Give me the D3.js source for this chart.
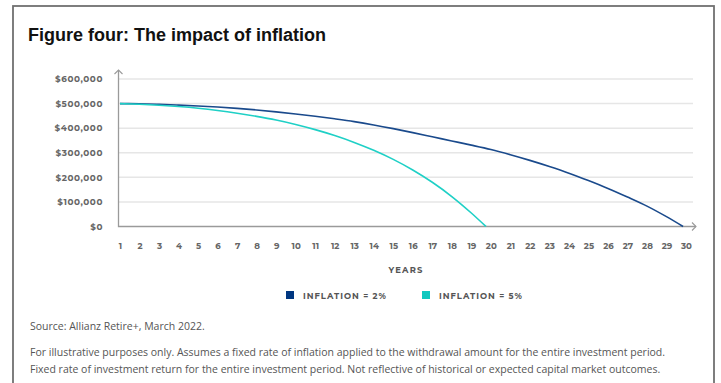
<!DOCTYPE html>
<html>
<head>
<meta charset="utf-8">
<script src="https://cdn.jsdelivr.net/npm/d3@7/dist/d3.min.js"></script>
<style>
  html, body { margin: 0; padding: 0; background: #fff; }
  svg { display: block; }
</style>
</head>
<body>
<svg id="chart" width="721" height="383"></svg>
<script>
// Portfolio balance by year under two inflation assumptions
const yearTicks = [1,2,3,4,5,6,7,8,9,10,11,12,13,14,15,16,17,18,19,20,21,22,23,24,25,26,27,28,29,30];
const valueTicks = [0, 100000, 200000, 300000, 400000, 500000, 600000];

const years2 = [1,2,3,4,5,6,7,8,9,10,11,12,13,14,15,16,17,18,19,20,21,22,23,24,25,26,27,28,29,29.85];
const balance2 = [500000,499500,497200,493900,490200,485800,480500,474000,466300,457800,448500,438000,426600,413200,398200,382000,365000,348000,331000,313000,292000,269000,244000,217000,187000,155000,120000,83000,40000,0];

const years5 = [1,2,3,4,5,6,7,8,9,10,11,12,13,14,15,16,17,18,19,19.75];
const balance5 = [500000,497500,493500,488000,481000,472000,461000,448000,433000,415000,394000,370000,342000,310000,273000,230000,180000,122000,55000,0];

const seriesNames = ["INFLATION = 2%", "INFLATION = 5%"];
const seriesColors = ["#1a4a8c", "#1fd0c6"];
const legendColors = ["#003781", "#10c8bf"];

const svg = d3.select("#chart");

// outer frame
svg.append("rect")
  .attr("x", 13).attr("y", 6)
  .attr("width", 701).attr("height", 420)
  .attr("fill", "none")
  .attr("stroke", "#707070")
  .attr("stroke-width", 1.8);

svg.append("text")
  .attr("x", 28).attr("y", 41)
  .attr("font-family", "Liberation Sans, Arial, sans-serif")
  .attr("font-weight", "bold")
  .attr("font-size", 18)
  .attr("fill", "#111")
  .text("Figure four: The impact of inflation");

const x = d3.scaleLinear().domain([1, 30]).range([120, 686]);
const y = d3.scaleLinear().domain([0, 600000]).range([226.5, 79]);

const labelFont = "Montserrat, 'Open Sans', 'DejaVu Sans', sans-serif";

// horizontal gridlines
svg.append("g")
  .selectAll("line")
  .data(valueTicks.filter(v => v > 0))
  .join("line")
  .attr("x1", 119).attr("x2", 693)
  .attr("y1", d => y(d)).attr("y2", d => y(d))
  .attr("stroke", "#e6e6e6")
  .attr("stroke-width", 1.5);

// y axis labels
const yAxis = svg.append("g")
  .attr("transform", "translate(118,0)")
  .call(d3.axisLeft(y).tickValues(valueTicks).tickSize(0).tickPadding(15)
    .tickFormat(d => "$" + d3.format(",")(d)));
yAxis.select(".domain").remove();
yAxis.selectAll("text")
  .attr("font-family", labelFont)
  .attr("font-weight", "bold")
  .attr("font-size", 8.8)
  .attr("letter-spacing", 0.6)
  .attr("fill", "#666");

// x axis labels
const xAxis = svg.append("g")
  .attr("transform", "translate(0,226.5)")
  .call(d3.axisBottom(x).tickValues(yearTicks).tickSize(0).tickPadding(16)
    .tickFormat(d3.format("d")));
xAxis.select(".domain").remove();
xAxis.selectAll("text")
  .attr("font-family", labelFont)
  .attr("font-weight", "bold")
  .attr("font-size", 8.6)
  .attr("fill", "#666");

// axis lines with open arrowheads
const axisColor = "#9a9a9a";
svg.append("path")
  .attr("d", "M118.5,70 V226.5 H696")
  .attr("fill", "none").attr("stroke", axisColor).attr("stroke-width", 1.3);
svg.append("path")
  .attr("d", "M114.5,74 L118.5,70 L122.5,74")
  .attr("fill", "none").attr("stroke", axisColor).attr("stroke-width", 1.1);
svg.append("path")
  .attr("d", "M692,222.5 L696,226.5 L692,230.5")
  .attr("fill", "none").attr("stroke", axisColor).attr("stroke-width", 1.1);

// balance lines
const line = d3.line()
  .x(d => x(d[0]))
  .y(d => y(d[1]))
  .curve(d3.curveMonotoneX);

const series = [
  d3.zip(years2, balance2),
  d3.zip(years5, balance5)
];
svg.append("g")
  .selectAll("path")
  .data(series)
  .join("path")
  .attr("d", line)
  .attr("fill", "none")
  .attr("stroke", (d, i) => seriesColors[i])
  .attr("stroke-width", 1.6);

svg.append("text")
  .attr("x", 406).attr("y", 273)
  .attr("text-anchor", "middle")
  .attr("font-family", labelFont)
  .attr("font-weight", "bold")
  .attr("font-size", 8.4)
  .attr("letter-spacing", 1.2)
  .attr("fill", "#555")
  .text("YEARS");

// legend
const legendX = [286, 422];
const legend = svg.append("g")
  .selectAll("g")
  .data(seriesNames)
  .join("g")
  .attr("transform", (d, i) => `translate(${legendX[i]},291)`);
legend.append("rect")
  .attr("width", 8).attr("height", 8)
  .attr("fill", (d, i) => legendColors[i]);
legend.append("text")
  .attr("x", 17).attr("y", 7.5)
  .attr("font-family", labelFont)
  .attr("font-weight", "bold")
  .attr("font-size", 8.4)
  .attr("letter-spacing", 1)
  .attr("fill", "#555")
  .text(d => d);

// footnotes
const noteFont = "'Open Sans', 'Noto Sans', sans-serif";
const notes = [
  {text: "Source: Allianz Retire+, March 2022.", y: 330},
  {text: "For illustrative purposes only. Assumes a fixed rate of inflation applied to the withdrawal amount for the entire investment period.", y: 356},
  {text: "Fixed rate of investment return for the entire investment period. Not reflective of historical or expected capital market outcomes.", y: 373}
];
svg.append("g")
  .selectAll("text")
  .data(notes)
  .join("text")
  .attr("x", 30).attr("y", d => d.y)
  .attr("font-family", noteFont)
  .attr("font-size", 10.5)
  .attr("fill", "#555")
  .text(d => d.text);
</script>
</body>
</html>
